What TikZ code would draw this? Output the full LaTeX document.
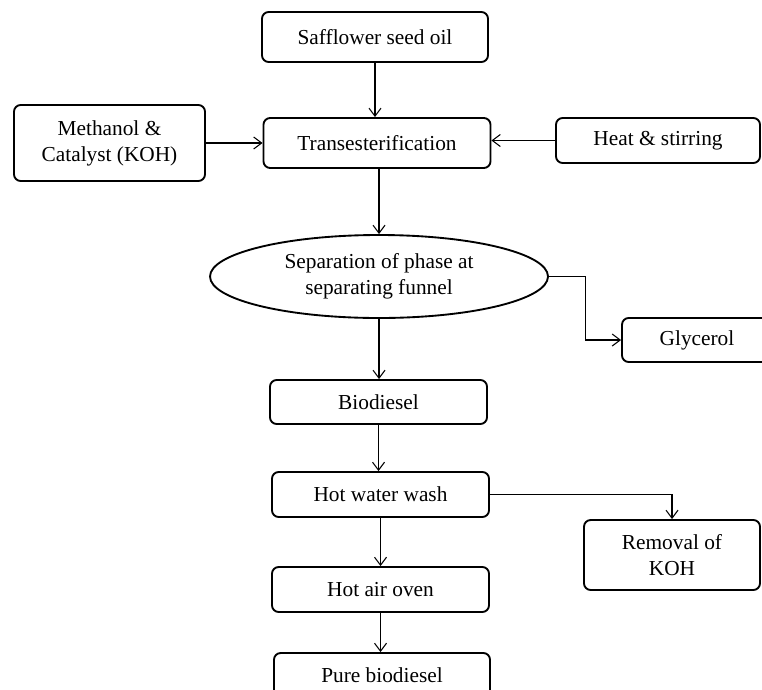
\documentclass[tikz,border=0pt]{standalone}
\usepackage{fontspec}
\setmainfont{Liberation Serif}
\usetikzlibrary{shapes.geometric,arrows.meta}

\begin{document}
\begin{tikzpicture}[x=0.75pt,y=-0.75pt,
  box/.style={draw,line width=1.4pt,rounded corners=5pt,align=center,inner sep=0pt,
    font=\fontsize{16}{19.5}\selectfont},
  sepell/.style={box,ellipse,rounded corners=0pt},
  arr/.style={line width=0.8pt,-{Straight Barb[length=6pt,width=9pt]}}]
\useasboundingbox (0,0) rectangle (762,689);
\fill[white] (0,0) rectangle (762,689);
\clip (0,0) rectangle (762,689);

% top row
\node[box,minimum width=169.5pt,minimum height=37.5pt] (oil) at (375,37) {Safflower seed oil};
\node[box,minimum width=143.25pt,minimum height=57pt] (meth) at (109.5,143) {Methanol \&\\Catalyst (KOH)};
\node[box,minimum width=170.25pt,minimum height=37.5pt] (trans) at (377,143) {Transesterification};
\node[box,minimum width=153pt,minimum height=33.75pt] (heat) at (658,140.5) {Heat \& stirring};

% separation
\node[sepell,minimum width=253.5pt,minimum height=62.25pt] (sep) at (379,276.5) {Separation of phase at\\separating funnel};
\node[box,minimum width=112.5pt,minimum height=33pt] (gly) at (697,340) {Glycerol};

% main line
\node[box,minimum width=162.75pt,minimum height=33pt] (bio) at (378.5,402) {Biodiesel};
\node[box,minimum width=162.75pt,minimum height=33.75pt] (wash) at (380.5,494.5) {Hot water wash};
\node[box,minimum width=132pt,minimum height=52.5pt] (koh) at (672,555) {Removal of\\KOH};
\node[box,minimum width=162.75pt,minimum height=33.75pt] (oven) at (380.5,589.5) {Hot air oven};
\node[box,minimum width=162pt,minimum height=33.75pt] (pure) at (382,675.5) {Pure biodiesel};

% arrows
\draw[arr] (oil.south) -- (oil.south |- trans.north);
\draw[arr] (meth.east |- trans.west) -- (trans.west);
\draw[arr] (heat.west) -- (trans.east |- heat.west);
\draw[arr] (sep.north |- trans.south) -- (sep.north);
\draw[arr] (sep.east) -- ++(37,0) |- (gly.west);
\draw[arr] (sep.south) -- (sep.south |- bio.north);
\draw[arr] (bio.south) -- (bio.south |- wash.north);
\draw[arr] (wash.east) -| (koh.north);
\draw[arr] (wash.south) -- (oven.north);
\draw[arr] (oven.south) -- (oven.south |- pure.north);
\end{tikzpicture}
\end{document}
